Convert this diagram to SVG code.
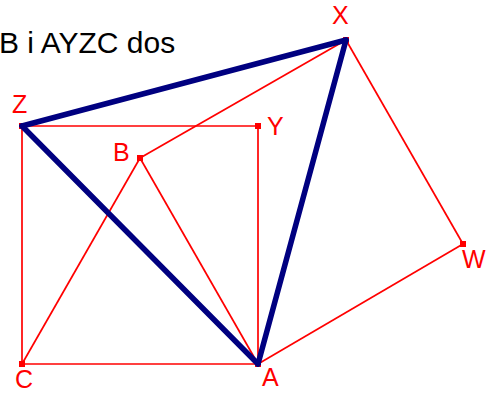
<svg xmlns="http://www.w3.org/2000/svg" width="493" height="394" viewBox="0 0 493 394">
<style>
.lbl{font-family:"Liberation Sans",Arial,sans-serif;font-size:25px;fill:#ff0000}
.title{font-family:"Liberation Sans",Arial,sans-serif;font-size:30px;fill:#000000}
.pt{fill:#ff0000}
.thin{stroke:#ff0000;stroke-width:1.7;fill:none}
.thick{stroke:#000080;stroke-width:5.5;fill:none;stroke-linecap:round}
</style>
<rect width="493" height="394" fill="#ffffff"/>
<text class="title" x="-1" y="53">B i AYZC dos</text>
<g id="nodes">
<g id="Z"><rect class="pt" x="19" y="123" width="6" height="6"/><text class="lbl" x="12" y="113">Z</text></g>
<g id="Y"><rect class="pt" x="255" y="123" width="6" height="6"/><text class="lbl" x="267" y="135">Y</text></g>
<g id="B"><rect class="pt" x="137" y="155" width="6" height="6"/><text class="lbl" x="113" y="161">B</text></g>
<g id="C"><rect class="pt" x="19" y="361" width="6" height="6"/><text class="lbl" x="15" y="388">C</text></g>
<g id="A"><rect class="pt" x="255" y="361" width="6" height="6"/><text class="lbl" x="262" y="386">A</text></g>
<g id="X"><rect class="pt" x="343" y="37" width="6" height="6"/><text class="lbl" x="332" y="24">X</text></g>
<g id="W"><rect class="pt" x="460" y="241" width="6" height="6"/><text class="lbl" x="462" y="268">W</text></g>
</g>
<g id="connectors">
<line class="thin" x1="22" y1="126" x2="258" y2="126"/>
<line class="thin" x1="258" y1="126" x2="258" y2="364"/>
<line class="thin" x1="258" y1="364" x2="22" y2="364"/>
<line class="thin" x1="22" y1="364" x2="22" y2="126"/>
<line class="thin" x1="140" y1="158" x2="346" y2="40"/>
<line class="thin" x1="140" y1="158" x2="22" y2="364"/>
<line class="thin" x1="140" y1="158" x2="258" y2="364"/>
<line class="thin" x1="346" y1="40" x2="463" y2="244"/>
<line class="thin" x1="463" y1="244" x2="258" y2="364"/>
<line class="thick" x1="22" y1="126" x2="346" y2="40"/>
<line class="thick" x1="22" y1="126" x2="258" y2="364"/>
<line class="thick" x1="346" y1="40" x2="258" y2="364"/>
</g>
</svg>
